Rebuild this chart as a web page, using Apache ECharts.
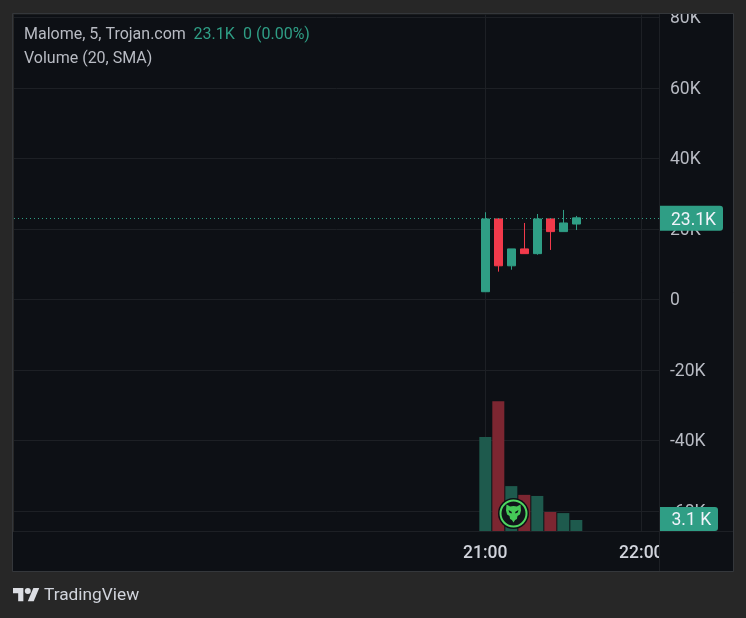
<!DOCTYPE html>
<html>
<head>
<meta charset="utf-8">
<style>html,body{margin:0;padding:0;background:#272727}#c{width:746px;height:618px}</style>
<script src="https://cdn.jsdelivr.net/npm/echarts@6/dist/echarts.min.js"></script>
</head>
<body>
<div id="c"></div>
<script>
// minutes after midnight
const minutes = [1260, 1265, 1270, 1275, 1280, 1285, 1290, 1295];
const opens   = [2150, 22800, 9500, 14300, 12950, 22800, 19200, 21350];
const closes  = [22800, 9500, 14300, 12950, 22800, 19200, 21650, 23100];
const lows    = [2150, 7850, 8400, 12950, 12650, 14000, 19200, 19650];
const highs   = [24700, 22800, 14300, 21650, 24200, 22800, 25350, 23650];
const volumes = [25900, 35700, 12400, 10000, 9700, 5300, 5000, 3100];
const priceTicks = [80000, 60000, 40000, 20000, 0, -20000, -40000, -60000];
const timeTicks = [1260, 1320];
const lastPrice = 23100;
const lastVolume = 3100;

const UP = '#2f9e85', DOWN = '#f23a4b', VOL_UP = '#1e5a4d', VOL_DOWN = '#7c2631';
const PANEL = '#0d1015', PAGE = '#272727', GRID = '#1d2025', EDGE = '#34373b', TEXT = '#b8bbc3';
const FONT = 'Roboto, sans-serif';

const pad = n => String(n).padStart(2, '0');
const fmtTime = v => pad(Math.floor(v / 60)) + ':' + pad(v % 60);
const fmtPrice = v => v === 0 ? '0' : (v / 1000) + 'K';
const priceMin = -65816, priceMax = 80794;
const labelNudge = 400; // the text of the scale sits slightly below its gridline

const chart = echarts.init(document.getElementById('c'), null, { renderer: 'canvas' });
const eagleHead = [[-7,-9],[-3.4,-7],[0,-7.6],[3.4,-7],[7,-9],[7.5,-3],[6.4,1],[4,2.6],[3.4,5.4],[1.6,6.4],[0,9],[-1.6,6.4],[-3.4,5.4],[-4,2.6],[-6.4,1],[-7.5,-3]];
const eyeL = [[-5,-3.4],[-1.6,-1.6],[-2,0],[-4.2,-1]];
const eyeR = [[5,-3.4],[1.6,-1.6],[2,0],[4.2,-1]];

chart.setOption({
  animation: false,
  backgroundColor: PAGE,
  grid: { left: 14, right: 87, top: 14.5, bottom: 86.7, show: true, backgroundColor: PANEL, borderWidth: 0, containLabel: false },
  xAxis: {
    type: 'value', min: 1260 - 181.27, max: 1260 + 66.8, scale: true,
    axisLine: { show: false },
    axisTick: { show: false, customValues: timeTicks },
    splitLine: { show: true, lineStyle: { color: GRID, width: 1 } },
    axisLabel: {
      customValues: timeTicks, margin: 13, color: '#d1d4dc', fontFamily: FONT, fontSize: 17.5, fontWeight: 500,
      hideOverlap: false, showMinLabel: true, showMaxLabel: true, formatter: fmtTime
    }
  },
  yAxis: [
    { type: 'value', min: priceMin, max: priceMax, position: 'right',
      axisLine: { show: false }, axisTick: { show: false, customValues: priceTicks },
      axisLabel: { show: false, customValues: priceTicks },
      splitLine: { show: true, lineStyle: { color: GRID, width: 1 } } },
    { type: 'value', min: 0, max: 141800, show: false, splitLine: { show: false } },
    { type: 'value', min: priceMin + labelNudge, max: priceMax + labelNudge, position: 'right', z: 60,
      axisLine: { show: false }, axisTick: { show: false, customValues: priceTicks },
      splitLine: { show: false },
      axisLabel: { customValues: priceTicks, margin: 11, color: TEXT, fontFamily: FONT, fontSize: 17.5, formatter: fmtPrice } }
  ],
  series: [
    { type: 'bar', name: 'Volume', xAxisIndex: 0, yAxisIndex: 1, barWidth: 12,
      data: minutes.map((m, i) => ({ value: [m, volumes[i]], itemStyle: { color: closes[i] >= opens[i] ? VOL_UP : VOL_DOWN } })) },
    { type: 'candlestick', name: 'Malome', xAxisIndex: 0, yAxisIndex: 0, barWidth: 9,
      encode: { x: 0, y: [1, 2, 3, 4] },
      itemStyle: { color: UP, color0: DOWN, borderColor: UP, borderColor0: DOWN, borderWidth: 1 },
      data: minutes.map((m, i) => [m, opens[i], closes[i], lows[i], highs[i]]),
      markLine: { silent: true, symbol: 'none', z: 80, animation: false,
        lineStyle: { color: UP, type: [1, 3], width: 1 },
        label: { show: false },
        data: [{ yAxis: lastPrice }] } }
  ]
});

// price tags are placed from the library's own scales
const priceY = chart.convertToPixel({ yAxisIndex: 0 }, lastPrice);
const volumeY = chart.convertToPixel({ yAxisIndex: 1 }, lastVolume);

chart.setOption({
  graphic: { elements: [
    { type: 'rect', z: 50, shape: { x: 660, y: 14, width: 73, height: 557 }, style: { fill: PANEL } },
    { type: 'line', z: 55, shape: { x1: 659.5, y1: 14, x2: 659.5, y2: 571 }, style: { stroke: GRID, lineWidth: 1 } },
    { type: 'line', z: 55, shape: { x1: 14, y1: 531.5, x2: 733, y2: 531.5 }, style: { stroke: GRID, lineWidth: 1 } },
    { type: 'rect', z: 70, shape: { x: 0, y: 0, width: 746, height: 13 }, style: { fill: PAGE } },
    { type: 'rect', z: 71, shape: { x: 12.5, y: 13.5, width: 721, height: 558 }, style: { fill: 'none', stroke: EDGE, lineWidth: 1 } },
    { type: 'rect', z: -1, shape: { x: 13, y: 532, width: 720, height: 39 }, style: { fill: PANEL } },
    { type: 'rect', z: 80, shape: { x: 660, y: priceY - 12, width: 63, height: 25, r: [0, 3, 3, 0] }, style: { fill: UP } },
    { type: 'text', z: 81, x: 671, y: priceY - 6, style: { text: '23.1K', fill: '#f0f3fa', font: '17.5px ' + FONT } },
    { type: 'rect', z: 80, shape: { x: 660, y: volumeY - 13, width: 58, height: 24, r: [0, 3, 3, 0] }, style: { fill: UP } },
    { type: 'text', z: 81, x: 671.5, y: volumeY - 8.5, style: { text: '3.1 K', fill: '#f0f3fa', font: '17.5px ' + FONT } },
    { type: 'text', z: 75, x: 24, y: 27, style: { text: 'Malome, 5, Trojan.com', fill: TEXT, font: '16px ' + FONT } },
    { type: 'text', z: 75, x: 193.5, y: 27, style: { text: '23.1K', fill: UP, font: '16px ' + FONT } },
    { type: 'text', z: 75, x: 243, y: 27, style: { text: '0 (0.00%)', fill: UP, font: '16px ' + FONT } },
    { type: 'text', z: 75, x: 24, y: 50.5, style: { text: 'Volume (20, SMA)', fill: TEXT, font: '16px ' + FONT } },
    { type: 'circle', z: 90, shape: { cx: 513.5, cy: 513.5, r: 15.5 }, style: { fill: '#0d1015' } },
    { type: 'circle', z: 91, shape: { cx: 513.5, cy: 513.5, r: 13 }, style: { fill: '#10151a', stroke: '#4fd660', lineWidth: 2 } },
    { type: 'polygon', z: 92, x: 513.5, y: 513.5, shape: { points: eagleHead }, style: { fill: '#45c957' } },
    { type: 'polygon', z: 93, x: 513.5, y: 513.5, shape: { points: eyeL }, style: { fill: '#10151a' } },
    { type: 'polygon', z: 93, x: 513.5, y: 513.5, shape: { points: eyeR }, style: { fill: '#10151a' } },
    { type: 'polygon', z: 75, x: 13, y: 585, scaleX: 0.74, scaleY: 0.74, shape: { points: [[0,4],[14,4],[14,22],[7,22],[7,11],[0,11]] }, style: { fill: '#dcdee3' } },
    { type: 'polygon', z: 75, x: 13, y: 585, scaleX: 0.74, scaleY: 0.74, shape: { points: [[20,22],[27.5,4],[35.5,4],[28,22]] }, style: { fill: '#dcdee3' } },
    { type: 'circle', z: 75, shape: { cx: 27.8, cy: 590.9, r: 3 }, style: { fill: '#dcdee3' } },
    { type: 'text', z: 75, x: 44, y: 587.5, style: { text: 'TradingView', fill: '#d1d4dc', font: '17.3px ' + FONT } }
  ] }
});
</script>
</body>
</html>
